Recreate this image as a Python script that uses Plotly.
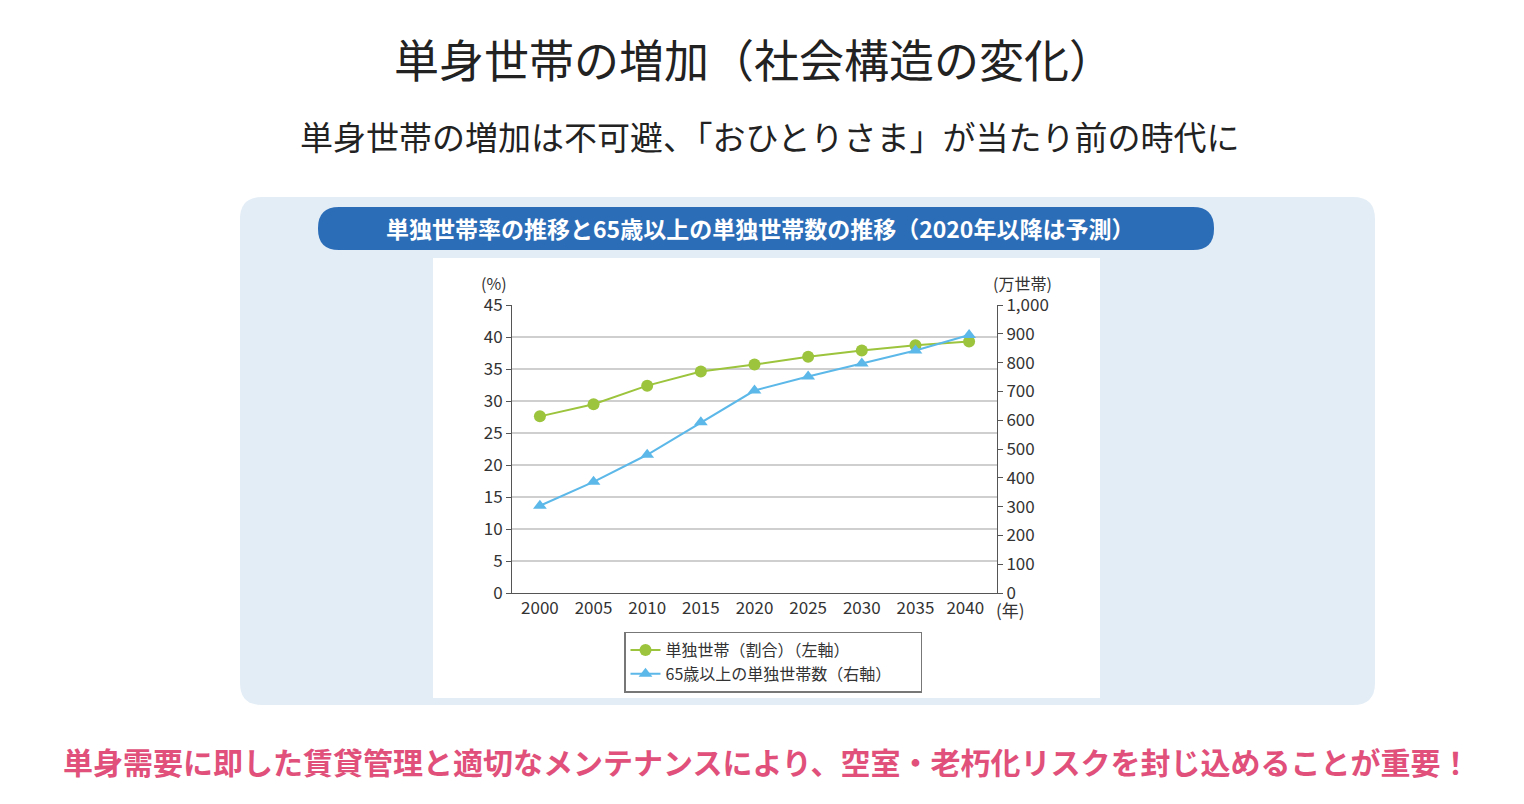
import plotly.graph_objects as go

years = [2000, 2005, 2010, 2015, 2020, 2025, 2030, 2035, 2040]
single_rate = [27.6, 29.5, 32.4, 34.6, 35.7, 36.9, 37.9, 38.7, 39.3]
elderly_single = [303, 386, 480, 593, 703, 752, 797, 842, 896]
right_ticks = [0, 100, 200, 300, 400, 500, 600, 700, 800, 900, 1000]
right_labels = ["0", "100", "200", "300", "400", "500", "600", "700", "800", "900", "1,000"]

W, H = 1524, 804
OFF = 8  # page body margin
L, R, T, B = 512 - OFF, 997 - OFF, 305 - OFF, 593 - OFF
FONT = "Noto Sans CJK JP"


def px(x):
    return (x - OFF - L) / (R - L)


def py(y):
    return (B - (y - OFF)) / (B - T)


def rounded(x0, y0, x1, y1, r):
    p = f"M {px(x0 + r)},{py(y0)} L {px(x1 - r)},{py(y0)} "
    p += f"Q {px(x1)},{py(y0)} {px(x1)},{py(y0 + r)} L {px(x1)},{py(y1 - r)} "
    p += f"Q {px(x1)},{py(y1)} {px(x1 - r)},{py(y1)} L {px(x0 + r)},{py(y1)} "
    p += f"Q {px(x0)},{py(y1)} {px(x0)},{py(y1 - r)} L {px(x0)},{py(y0 + r)} "
    p += f"Q {px(x0)},{py(y0)} {px(x0 + r)},{py(y0)} Z"
    return p


fig = go.Figure()
fig.add_trace(go.Scatter(
    x=years, y=single_rate, name="単独世帯（割合）（左軸）", mode="lines+markers",
    line=dict(color="#9cc43c", width=2), marker=dict(size=12, color="#9cc43c"),
))
fig.add_trace(go.Scatter(
    x=years, y=elderly_single, name="65歳以上の単独世帯数（右軸）", mode="lines+markers",
    yaxis="y2", line=dict(color="#5cb8e8", width=2),
    marker=dict(size=12, color="#5cb8e8", symbol="triangle-up"),
))

shapes = [
    dict(type="path", xref="paper", yref="paper", path=rounded(240, 197, 1375, 705, 22),
         fillcolor="#e3edf6", line=dict(width=0), layer="below"),
    dict(type="path", xref="paper", yref="paper", path=rounded(318, 207, 1214, 250, 21),
         fillcolor="#2c6db8", line=dict(width=0), layer="below"),
    dict(type="rect", xref="paper", yref="paper", x0=px(433), x1=px(1100), y0=py(258), y1=py(698),
         fillcolor="white", line=dict(width=0), layer="below"),
]

ann = [
    dict(text="単身世帯の増加（社会構造の変化）", x=px(754), y=py(58), font=dict(size=45, color="#222")),
    dict(text="単身世帯の増加は不可避、「おひとりさま」が当たり前の時代に", x=px(770), y=py(136),
         font=dict(size=33, color="#222")),
    dict(text="<b>単独世帯率の推移と65歳以上の単独世帯数の推移（2020年以降は予測）</b>", x=px(760), y=py(228),
         font=dict(size=23, color="white")),
    dict(text="<b>単身需要に即した賃貸管理と適切なメンテナンスにより、空室・老朽化リスクを封じ込めることが重要！</b>",
         x=px(767), y=py(761), font=dict(size=30, color="#e0507a")),
    dict(text="(%)", x=px(494), y=py(283), font=dict(size=16, color="#333")),
    dict(text="(万世帯)", x=px(1022), y=py(283), font=dict(size=16, color="#333")),
    dict(text="(年)", x=px(1010), y=py(609), font=dict(size=17, color="#333")),
]
for a in ann:
    a.update(xref="paper", yref="paper", showarrow=False, xanchor="center", yanchor="middle")
    a["font"]["family"] = FONT

fig.update_layout(
    width=W, height=H, paper_bgcolor="white", plot_bgcolor="white",
    margin=dict(l=L, r=W - R, t=T, b=H - B),
    font=dict(family=FONT, size=17, color="#333"),
    shapes=shapes, annotations=ann,
    xaxis=dict(range=[1997.4, 2042.6], tickvals=years, ticktext=[str(y) for y in years[:-1]] + ["2040  "],
               showgrid=False, showline=True, linecolor="#555", ticks="", tickfont=dict(size=17),
               zeroline=False),
    yaxis=dict(range=[0, 45], dtick=5, showgrid=True, gridcolor="#cfcfcf", gridwidth=1.5,
               showline=True, linecolor="#555", ticks="outside", ticklen=5, tickcolor="#555",
               zeroline=False, tickfont=dict(size=17)),
    yaxis2=dict(range=[0, 1000], tickvals=right_ticks, ticktext=right_labels, overlaying="y",
                side="right", showgrid=False, showline=True, linecolor="#555", ticks="outside",
                ticklen=5, tickcolor="#555", zeroline=False, tickfont=dict(size=17)),
    legend=dict(orientation="h", x=px(773), y=py(662), xanchor="center", yanchor="middle",
                bordercolor="#777", borderwidth=1.5, bgcolor="white", font=dict(size=16),
                entrywidth=250, entrywidthmode="pixels"),
)

fig.write_html("out.html")
